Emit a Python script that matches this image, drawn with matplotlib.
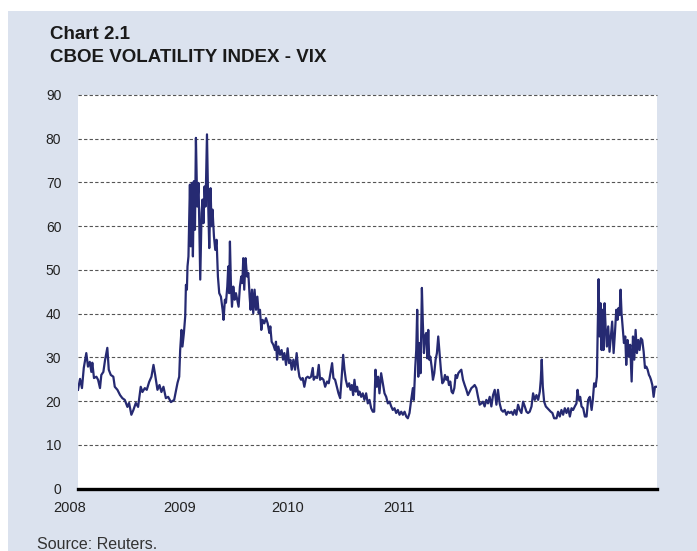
import matplotlib
matplotlib.use("Agg")
import matplotlib.pyplot as plt
from matplotlib.patches import Rectangle
import matplotlib.transforms as mtransforms

# Months elapsed since January 2008 and the VIX level
months = [0, 0.17, 0.33, 0.48, 0.69, 0.83, 0.98, 1.11, 1.19, 1.33, 1.53, 1.67, 1.83, 1.94, 2.11,
          2.25, 2.44, 2.56, 2.73, 2.94, 3.06, 3.28, 3.5, 3.69, 3.89, 4.11, 4.25, 4.44, 4.61, 4.81,
          5.0, 5.22, 5.36, 5.56, 5.72, 5.92, 6.11, 6.28, 6.42, 6.61, 6.78, 6.94, 7.11, 7.31, 7.5,
          7.73, 8.0, 8.14, 8.28, 8.42, 8.5, 8.61, 8.69, 8.81, 8.92, 8.98, 9.06, 9.11, 9.19, 9.31,
          9.39, 9.48, 9.56, 9.64, 9.73, 9.81, 9.92, 10.03, 10.17, 10.28, 10.36, 10.44, 10.53, 10.61,
          10.73, 10.83, 10.92, 11.03, 11.11, 11.19, 11.31, 11.42, 11.53, 11.64, 11.75, 11.89, 12.03,
          12.11, 12.22, 12.31, 12.42, 12.5, 12.58, 12.64, 12.72, 12.81, 12.92, 13.03, 13.14, 13.25,
          13.36, 13.47, 13.58, 13.67, 13.75, 13.83, 13.94, 14.06, 14.17, 14.28, 14.36, 14.47, 14.58,
          14.69, 14.81, 14.92, 15.03, 15.14, 15.25, 15.36, 15.5, 15.64, 15.78, 15.92, 16.0, 16.11,
          16.25, 16.39, 16.47, 16.56, 16.67, 16.81, 16.94, 17.06, 17.17, 17.31, 17.44, 17.56, 17.67,
          17.78, 17.92, 18.06, 18.19, 18.31, 18.42, 18.56, 18.69, 18.83, 18.97, 19.11, 19.25, 19.39,
          19.53, 19.61, 19.75, 19.89, 20.03, 20.14, 20.28, 20.42, 20.56, 20.72, 20.86, 21.0, 21.14,
          21.25, 21.39, 21.53, 21.67, 21.81, 21.94, 22.06, 22.17, 22.28, 22.42, 22.56, 22.67, 22.78,
          22.89, 23.0, 23.11, 23.22, 23.33, 23.42, 23.56, 23.69, 23.83, 23.97, 24.11, 24.25, 24.39,
          24.53, 24.64, 24.75, 24.86, 24.97, 25.08, 25.22, 25.36, 25.5, 25.64, 25.78, 25.92, 26.06,
          26.19, 26.33, 26.47, 26.61, 26.75, 26.89, 27.03, 27.17, 27.31, 27.44, 27.58, 27.72, 27.86,
          27.94, 28.06, 28.14, 28.22, 28.31, 28.42, 28.5, 28.61, 28.69, 28.78, 28.86, 28.97, 29.06,
          29.14, 29.22, 29.31, 29.42, 29.53, 29.64, 29.75, 29.86, 29.97, 30.08, 30.19, 30.31, 30.42,
          30.53, 30.64, 30.75, 30.86, 30.97, 31.08, 31.19, 31.31, 31.42, 31.53, 31.64, 31.75, 31.89,
          32.03, 32.17, 32.31, 32.44, 32.58, 32.73, 32.86, 33.0, 33.14, 33.28, 33.42, 33.56, 33.69,
          33.83, 33.97, 34.11, 34.25, 34.39, 34.53, 34.67, 34.81, 34.94, 35.08, 35.22, 35.36, 35.5,
          35.64, 35.78, 35.92, 36.06, 36.19, 36.33, 36.47, 36.61, 36.75, 36.89, 37.03, 37.17, 37.31,
          37.44, 37.58, 37.73, 37.86, 38.0, 38.14, 38.28, 38.42, 38.5, 38.58, 38.67, 38.78, 38.92,
          39.06, 39.19, 39.33, 39.47, 39.61, 39.81, 39.94, 40.08, 40.22, 40.36, 40.5, 40.64, 40.78,
          40.92, 41.06, 41.19, 41.33, 41.47, 41.56, 41.67, 41.78, 41.89, 42.03, 42.17, 42.31, 42.44,
          42.58, 42.73, 42.83, 42.94, 43.06, 43.17, 43.22, 43.31, 43.39, 43.47, 43.56, 43.64, 43.72,
          43.81, 43.89, 44.0, 44.11, 44.22, 44.33, 44.44, 44.56, 44.67, 44.78, 44.89, 44.97, 45.06,
          45.14, 45.22, 45.31, 45.42, 45.53, 45.61, 45.72, 45.83, 45.94, 46.06, 46.17, 46.28, 46.39,
          46.5, 46.61, 46.72, 46.83, 46.94, 47.06, 47.17, 47.28, 47.39, 47.5, 47.58, 47.67, 47.78,
          47.89, 48.0, 48.08]

vix = [22.6, 25.1, 23.0, 27.6, 31.0, 27.9, 29.0, 26.7, 28.8, 25.3, 25.6, 24.9, 23.0, 26.0, 26.7,
       29.4, 32.2, 27.2, 26.0, 25.6, 23.3, 22.6, 21.4, 20.7, 20.3, 18.7, 19.6, 16.9, 18.0, 19.6,
       18.7, 23.3, 22.1, 23.0, 22.6, 24.4, 25.6, 28.3, 26.0, 22.6, 23.7, 22.1, 23.3, 20.7, 21.0,
       19.8, 20.3, 22.2, 24.2, 25.6, 31.7, 36.3, 32.5, 35.6, 39.4, 46.6, 45.5, 50.8, 53.1, 69.5,
       55.4, 69.9, 53.1, 70.3, 59.2, 80.2, 64.5, 69.9, 47.8, 63.0, 66.1, 60.7, 69.1, 64.5,
       81.0, 65.3, 55.0, 68.7, 60.0, 63.8, 57.7, 54.6, 56.9, 48.5, 44.7, 43.9, 40.9,
       38.6, 43.2, 42.5, 46.2, 50.8, 44.7, 56.5, 47.0, 41.6, 46.2, 43.2, 44.7, 43.2,
       41.6, 46.2, 48.5, 47.0, 52.7, 45.5, 52.7, 48.5, 49.3, 43.9, 40.9, 45.5, 40.1,
       45.5, 40.9, 43.9, 40.1, 40.9, 36.3, 38.6, 37.8, 39.0, 37.8, 35.6, 37.1, 33.6,
       32.9, 31.7, 33.6, 29.5, 32.5, 30.6, 31.7, 29.5, 31.0, 28.3, 32.1, 28.7, 29.5,
       27.2, 29.5, 27.2, 31.0, 27.6, 25.6, 24.9, 25.3, 23.3, 25.3, 25.6, 25.3, 25.6,
       27.6, 24.9, 25.6, 25.3, 28.3, 24.9, 25.3, 24.9, 23.3, 24.5, 24.1, 26.4, 28.7,
       25.3, 24.9, 23.3, 21.8, 20.7, 25.6, 30.6, 27.2, 24.9, 23.3, 24.1, 22.6, 23.7,
       21.4, 24.9, 22.2, 23.3, 21.4, 22.2, 21.0, 21.8, 20.3, 21.8, 19.5, 20.3, 18.4,
       17.6, 17.6, 27.2, 23.3, 25.6, 21.8, 26.4, 24.1, 21.8, 21.0, 19.5, 19.9, 18.8,
       18.0, 18.4, 17.3, 18.0, 16.9, 17.6, 16.9, 17.6, 16.5, 16.1, 17.3, 20.3, 23.0,
       20.3, 27.9, 31.7, 40.9, 25.6, 33.3, 26.4, 45.9, 37.8, 31.0, 34.8, 35.6, 29.8,
       36.3, 29.5, 30.2, 27.9, 24.9, 26.4, 29.5, 31.0, 34.8, 31.0, 27.2, 24.1, 24.5,
       26.0, 24.9, 25.6, 23.7, 24.5, 22.2, 21.8, 23.0, 26.0, 25.3, 26.4, 26.8, 27.2,
       24.9, 23.7, 22.6, 21.4, 22.2, 23.0, 23.3, 23.7, 23.0, 21.0, 19.2, 19.5, 19.9,
       18.8, 20.3, 19.5, 21.0, 18.8, 21.4, 22.6, 19.2, 22.6, 19.5, 18.0, 17.6, 18.0,
       16.9, 17.6, 17.3, 17.6, 16.9, 18.0, 16.9, 19.2, 18.0, 17.3, 19.9, 18.8, 17.6,
       17.3, 17.6, 18.8, 21.8, 20.3, 21.4, 20.3, 22.2, 24.9, 29.5, 23.3, 19.9, 18.8,
       18.4, 18.0, 17.6, 17.3, 16.1, 16.1, 17.6, 16.5, 18.0, 16.9, 18.4, 17.3, 18.4,
       16.5, 18.4, 18.0, 18.8, 19.5, 22.6, 20.3, 21.0, 18.8, 18.4, 16.5, 16.5, 20.3,
       21.0, 18.0, 20.3, 24.1, 23.3, 25.6, 33.3, 47.9, 34.8, 42.4, 31.7, 40.9, 31.7,
       42.4, 37.1, 32.5, 37.1, 31.3, 34.8, 38.2, 31.0, 35.6, 40.9, 38.6, 41.3, 39.7,
       45.5, 40.1, 37.1, 33.3, 34.8, 28.3, 34.0, 30.2, 32.9, 24.5, 34.8, 29.5, 36.3,
       31.0, 34.0, 31.7, 34.4, 34.0, 31.3, 27.6, 27.9, 27.2, 26.0, 25.6, 24.9, 23.7,
       21.0, 23.3, 23.3]

y_ticks = [0, 10, 20, 30, 40, 50, 60, 70, 80, 90]
year_labels = ["2008", "2009", "2010", "2011"]
year_label_pos = [-0.67, 8.46, 17.42, 26.67]

W, H = 697, 551
fig = plt.figure(figsize=(W / 100, H / 100), dpi=100)
fig.patch.set_facecolor("white")
bg = "#dbe2ee"
fig.patches.append(Rectangle((8 / W, 0), 1 - 8 / W, 1 - 11 / H, transform=fig.transFigure,
                             facecolor=bg, edgecolor="none", zorder=-5))

ax = fig.add_axes([78 / W, 1 - 488.7 / H, (657 - 78) / W, (488.7 - 95) / H])
ax.set_zorder(2)
ax.set_facecolor("white")
ax.plot(months, vix, color="#262a72", lw=1.6, solid_joinstyle="round", zorder=3)

ax.set_xlim(0, 48.17)
ax.set_ylim(0, 90)
ax.set_yticks(y_ticks)
ax.set_yticklabels([str(t) for t in y_ticks], fontsize=10, family="Liberation Sans", color="#222222")
ax.tick_params(axis="y", length=0, pad=12)
ax.set_xticks([])
for t in y_ticks[1:]:
    ax.axhline(t, color="#555555", lw=0.8, ls=(0, (3, 2)), zorder=1, clip_on=False)

for s in ["left", "right", "top"]:
    ax.spines[s].set_visible(False)
ax.spines["bottom"].set_linewidth(2.4)
ax.spines["bottom"].set_color("black")
ax.spines["bottom"].set_zorder(4)

trans = mtransforms.blended_transform_factory(ax.transData, ax.transAxes)
for pos, lab in zip(year_label_pos, year_labels):
    ax.text(pos, -19 / (488.7 - 95), lab, transform=trans, ha="center", va="center",
            fontsize=10.5, family=["Liberation Sans Narrow", "Liberation Sans"], color="#222222",
            clip_on=False)

fig.text(50 / W, 1 - 39.3 / H, "Chart 2.1", fontsize=13.5, fontweight="bold",
         family="Liberation Sans", color="#1a1a1a", va="baseline", ha="left")
fig.text(50 / W, 1 - 62 / H, "CBOE VOLATILITY INDEX - VIX", fontsize=13.5, fontweight="bold",
         family="Liberation Sans", color="#1a1a1a", va="baseline", ha="left")
fig.text(37 / W, 1 - 549 / H, "Source: Reuters.", fontsize=11.5,
         family="Liberation Sans", color="#333333", va="baseline", ha="left")

fig.savefig("out.png", dpi=100, facecolor=fig.get_facecolor())
